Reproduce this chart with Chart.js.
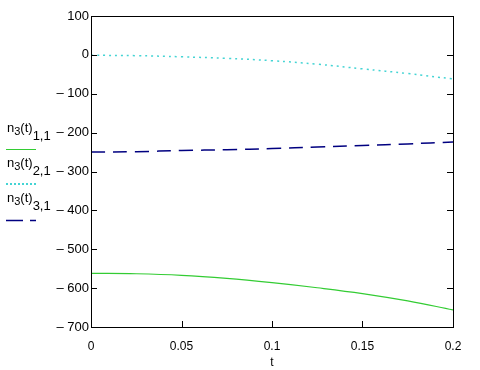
<!DOCTYPE html>
<html>
<head>
<meta charset="utf-8">
<script src="https://cdn.jsdelivr.net/npm/chart.js@4.4.0/dist/chart.umd.min.js"></script>
<style>
  html, body { margin: 0; padding: 0; background: #fff; }
  #wrap { position: relative; width: 480px; height: 370px; }
  canvas { position: absolute; left: 0; top: 0; }
  .lg { position: absolute; left: 7px; font: 13px "Liberation Sans", Arial, sans-serif; color: #000; white-space: nowrap; line-height: 15px; }
  .lg sub { font-size: 11px; vertical-align: -3px; }
  .lg sub.big { font-size: 13px; vertical-align: -8px; }
  .sw { position: absolute; left: 6px; width: 30px; }
</style>
</head>
<body>
<div id="wrap">
  <canvas id="chart" width="480" height="370"></canvas>
  <div class="lg" style="top:120px">n<sub>3</sub>(t)<sub class="big">1,1</sub></div>
  <div class="sw" style="top:149px;height:1px;background:#33cc33"></div>
  <div class="lg" style="top:155px">n<sub>3</sub>(t)<sub class="big">2,1</sub></div>
  <div class="sw" style="top:183px;height:0;border-top:2px dotted #44d4d4"></div>
  <div class="lg" style="top:190px">n<sub>3</sub>(t)<sub class="big">3,1</sub></div>
  <div class="sw" style="top:219px">
    <svg width="30" height="3" style="display:block"><line x1="0" y1="1.5" x2="30" y2="1.5" stroke="#000080" stroke-width="1.5" stroke-dasharray="17,7,6"/></svg>
  </div>
</div>
<script>
// valeurs
const tValues = [0, 0.025, 0.05, 0.075, 0.1, 0.125, 0.15, 0.175, 0.2];
const n11 = [-562, -563, -567, -575, -586, -599, -614, -633, -656];
const n21 = [-1, -2, -5, -9, -15, -24, -36, -48, -62];
const n31 = [-250, -249, -246, -244, -241, -237, -233, -229, -224];

const xTicks = [0, 0.05, 0.1, 0.15, 0.2];
const yTicks = [100, 0, -100, -200, -300, -400, -500, -600, -700];

const font = { family: '"Liberation Sans", Arial, sans-serif', size: 12 };

function pts(ys) {
  return tValues.map((t, i) => ({ x: t, y: ys[i] }));
}

function fmtY(v) {
  return v < 0 ? '\u2013 ' + Math.abs(v) : String(v);
}

// cadre + petits traits vers l'interieur
const frame = {
  id: 'frame',
  afterDraw(chart) {
    const c = chart.ctx;
    const a = chart.chartArea;
    const xs = chart.scales.x, ys = chart.scales.y;
    c.save();
    c.strokeStyle = '#000';
    c.lineWidth = 1;
    c.strokeRect(Math.round(a.left) + 0.5, Math.round(a.top) + 0.5,
      Math.round(a.right - a.left), Math.round(a.bottom - a.top));
    c.beginPath();
    yTicks.forEach(v => {
      const y = Math.round(ys.getPixelForValue(v)) + 0.5;
      c.moveTo(a.left, y); c.lineTo(a.left + 6, y);
      c.moveTo(a.right, y); c.lineTo(a.right - 6, y);
    });
    xTicks.forEach(v => {
      const x = Math.round(xs.getPixelForValue(v)) + 0.5;
      c.moveTo(x, a.bottom); c.lineTo(x, a.bottom - 6);
    });
    c.stroke();
    c.restore();
  }
};

new Chart(document.getElementById('chart'), {
  type: 'line',
  data: {
    datasets: [
      { data: pts(n11), borderColor: '#33cc33', borderWidth: 1.2, pointRadius: 0, tension: 0.4 },
      { data: pts(n21), borderColor: '#44d4d4', borderWidth: 1.5, borderDash: [2, 4], pointRadius: 0, tension: 0.4 },
      { data: pts(n31), borderColor: '#000080', borderWidth: 1.5, borderDash: [14, 8], pointRadius: 0, tension: 0.4 }
    ]
  },
  options: {
    responsive: false,
    animation: false,
    layout: { padding: { left: 0, right: 27, top: 16, bottom: 0 } },
    plugins: { legend: { display: false }, tooltip: { enabled: false } },
    scales: {
      x: {
        type: 'linear', min: 0, max: 0.2,
        afterBuildTicks: s => { s.ticks = xTicks.map(v => ({ value: v })); },
        afterFit: s => { s.height = 43; },
        grid: { display: false },
        border: { display: false },
        ticks: { color: '#000', font, padding: 4, maxRotation: 0, callback: v => String(v) },
        title: { display: true, text: 't', color: '#000', font, padding: { top: 4, bottom: 0 } }
      },
      y: {
        min: -700, max: 100,
        afterBuildTicks: s => { s.ticks = yTicks.map(v => ({ value: v })); },
        afterFit: s => { s.width = 91; },
        grid: { display: false },
        border: { display: false },
        ticks: { color: '#000', font: { family: font.family, size: 13 }, padding: -6, callback: v => fmtY(v) }
      }
    }
  },
  plugins: [frame]
});
</script>
</body>
</html>
